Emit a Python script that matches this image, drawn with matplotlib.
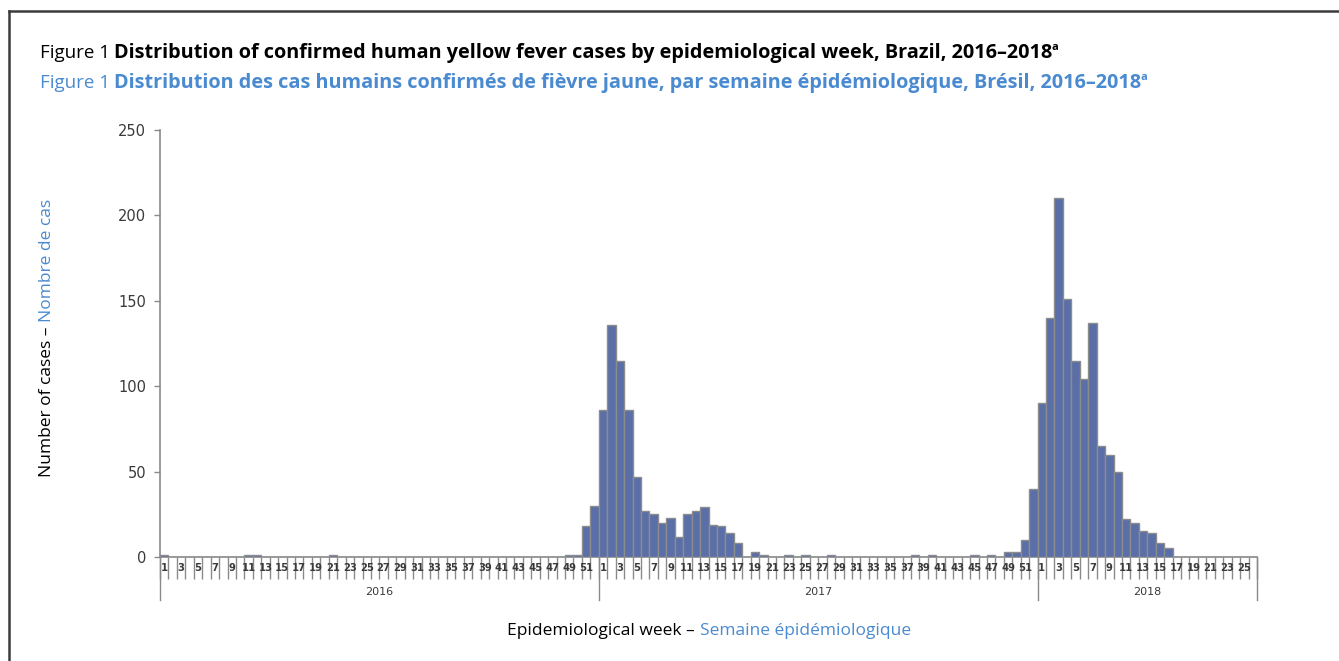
"""
Yellow fever cases by epidemiological week, Brazil 2016-2018
Recreated as a WHO-style weekly bar chart
"""

import matplotlib

matplotlib.use('Agg')

import matplotlib.pyplot as plt
from matplotlib.lines import Line2D
from matplotlib.transforms import blended_transform_factory

# Data - weekly confirmed cases
years = ['2016', '2017', '2018']
cases_2016 = [1, 0, 0, 0, 0, 0, 0, 0, 0, 0,
              1, 1, 0, 0, 0, 0, 0, 0, 0, 0,
              1, 0, 0, 0, 0, 0, 0, 0, 0, 0,
              0, 0, 0, 0, 0, 0, 0, 0, 0, 0,
              0, 0, 0, 0, 0, 0, 0, 0, 1, 1,
              18, 30]
cases_2017 = [86, 136, 115, 86, 47, 27, 25, 20, 23, 12,
              25, 27, 29, 19, 18, 14, 8, 0, 3, 1,
              0, 0, 1, 0, 1, 0, 0, 1, 0, 0,
              0, 0, 0, 0, 0, 0, 0, 1, 0, 1,
              0, 0, 0, 0, 1, 0, 1, 0, 3, 3,
              10, 40]
cases_2018 = [90, 140, 210, 151, 115, 104, 137, 65, 60, 50,
              22, 20, 15, 14, 8, 5, 0, 0, 0, 0,
              0, 0, 0, 0, 0, 0]
y_ticks = [0, 50, 100, 150, 200, 250]

COLORS = {
    'bar': '#5a6ea8',
    'bar_edge': '#8c8c8c',
    'axis': '#8a8a8a',
    'tick_text': '#3a3a3a',
    'blue': '#4a8ad0',
    'frame': '#3c3c3c',
}
TEXT_FONT = ['Liberation Sans Narrow', 'Open Sans', 'DejaVu Sans']

W, H = 1339, 661
fig = plt.figure(figsize=(W / 100, H / 100), dpi=100)
fig.patch.set_facecolor('white')

# axes placed in pixel terms of the reference
left, right, top, bottom = 160, 1257, 130, 557
ax = fig.add_axes([left / W, 1 - bottom / H, (right - left) / W, (bottom - top) / H])

all_cases = cases_2016 + cases_2017 + cases_2018
year_lengths = [len(cases_2016), len(cases_2017), len(cases_2018)]
n = len(all_cases)
x = [i + 0.5 for i in range(n)]

ax.bar(x, all_cases, width=1.0, color=COLORS['bar'], edgecolor=COLORS['bar_edge'],
       linewidth=1.0, zorder=3)

ax.set_xlim(0, n)
ax.set_ylim(0, 250)
ax.set_yticks(y_ticks)
ax.tick_params(axis='y', direction='out', length=4, width=1, color=COLORS['axis'],
               labelsize=10.5, labelcolor=COLORS['tick_text'], pad=6)

# category boundaries as tick marks, odd week numbers as labels
ax.set_xticks(range(n + 1))
ax.set_xticklabels([])
labels = []
label_pos = []
offset = 0
for length in year_lengths:
    for wk in range(1, length + 1, 2):
        labels.append(str(wk))
        label_pos.append(offset + wk - 0.5)
    offset += length
ax.set_xticks(label_pos, minor=True)
ax.set_xticklabels(labels, minor=True)
ax.tick_params(axis='x', which='major', direction='out', length=16, width=1,
               color=COLORS['axis'])
ax.tick_params(axis='x', which='minor', length=0, labelsize=7.2,
               labelcolor=COLORS['tick_text'], pad=4)
for lbl in ax.get_xticklabels(minor=True):
    lbl.set_fontweight('bold')

for side in ['top', 'right']:
    ax.spines[side].set_visible(False)
for side in ['left', 'bottom']:
    ax.spines[side].set_color(COLORS['axis'])
    ax.spines[side].set_linewidth(1.2)

# year group separators and labels
trans = blended_transform_factory(ax.transData, ax.transAxes)
sep_len = 43 / (bottom - top)
offset = 0
bounds = [0]
for length in year_lengths:
    offset += length
    bounds.append(offset)
for b in bounds:
    ax.add_line(Line2D([b, b], [0, -sep_len], transform=trans, color=COLORS['axis'],
                       lw=1, clip_on=False))
for yr, a, b in zip(years, bounds[:-1], bounds[1:]):
    ax.text((a + b) / 2, -35 / (bottom - top), yr, transform=trans, ha='center',
            va='center', fontsize=8, color=COLORS['tick_text'])

# title lines
renderer = fig.canvas.get_renderer()


def title_line(y_px, bold_text, color):
    fig.text(40 / W, 1 - y_px / H, 'Figure 1', family=TEXT_FONT, fontsize=13.5,
             color=color, va='baseline')
    t = fig.text(114 / W, 1 - y_px / H, bold_text, family=TEXT_FONT, fontsize=14.3,
                 fontweight='bold', color=color, va='baseline')
    bb = t.get_window_extent(renderer)
    fig.text((bb.x1 - 1) / W, 1 - (y_px - 8) / H, 'a', family=TEXT_FONT,
             fontsize=8, fontweight='bold', color=color, va='baseline')


title_line(58, 'Distribution of confirmed human yellow fever cases by epidemiological '
               'week, Brazil, 2016–2018', 'black')
title_line(88, 'Distribution des cas humains confirmés de fièvre jaune, par semaine '
               'épidémiologique, Brésil, 2016–2018', COLORS['blue'])

# x axis label in two colours
t1 = fig.text(0.5, 1 - 631 / H, 'Epidemiological week – ', family=TEXT_FONT,
              fontsize=12.5, color='black', ha='left', va='center')
t2 = fig.text(0.5, 1 - 631 / H, 'Semaine épidémiologique', family=TEXT_FONT,
              fontsize=12.5, color=COLORS['blue'], ha='left', va='center')
w1 = t1.get_window_extent(renderer).width
w2 = t2.get_window_extent(renderer).width
start = 709 - (w1 + w2) / 2
t1.set_x(start / W)
t2.set_x((start + w1) / W)

# y axis label in two colours, rotated
y1 = fig.text(47 / W, 0, 'Number of cases – ', family=TEXT_FONT, fontsize=12.5,
              color='black', rotation=90, ha='center', va='bottom')
y2 = fig.text(47 / W, 0, 'Nombre de cas', family=TEXT_FONT, fontsize=12.5,
              color=COLORS['blue'], rotation=90, ha='center', va='bottom')
h1 = y1.get_window_extent(renderer).height
h2 = y2.get_window_extent(renderer).height
ystart = (661 - 338) - (h1 + h2) / 2
y1.set_y(ystart / H)
y2.set_y((ystart + h1) / H)

# frame around the figure (left and top edges only)
fig.add_artist(Line2D([9 / W, 9 / W], [0, 1 - 11 / H], transform=fig.transFigure,
                      color=COLORS['frame'], lw=1.8))
fig.add_artist(Line2D([9 / W, 1], [1 - 11 / H, 1 - 11 / H], transform=fig.transFigure,
                      color=COLORS['frame'], lw=1.8))

plt.savefig('out.png', dpi=100, facecolor='white')
plt.close()
